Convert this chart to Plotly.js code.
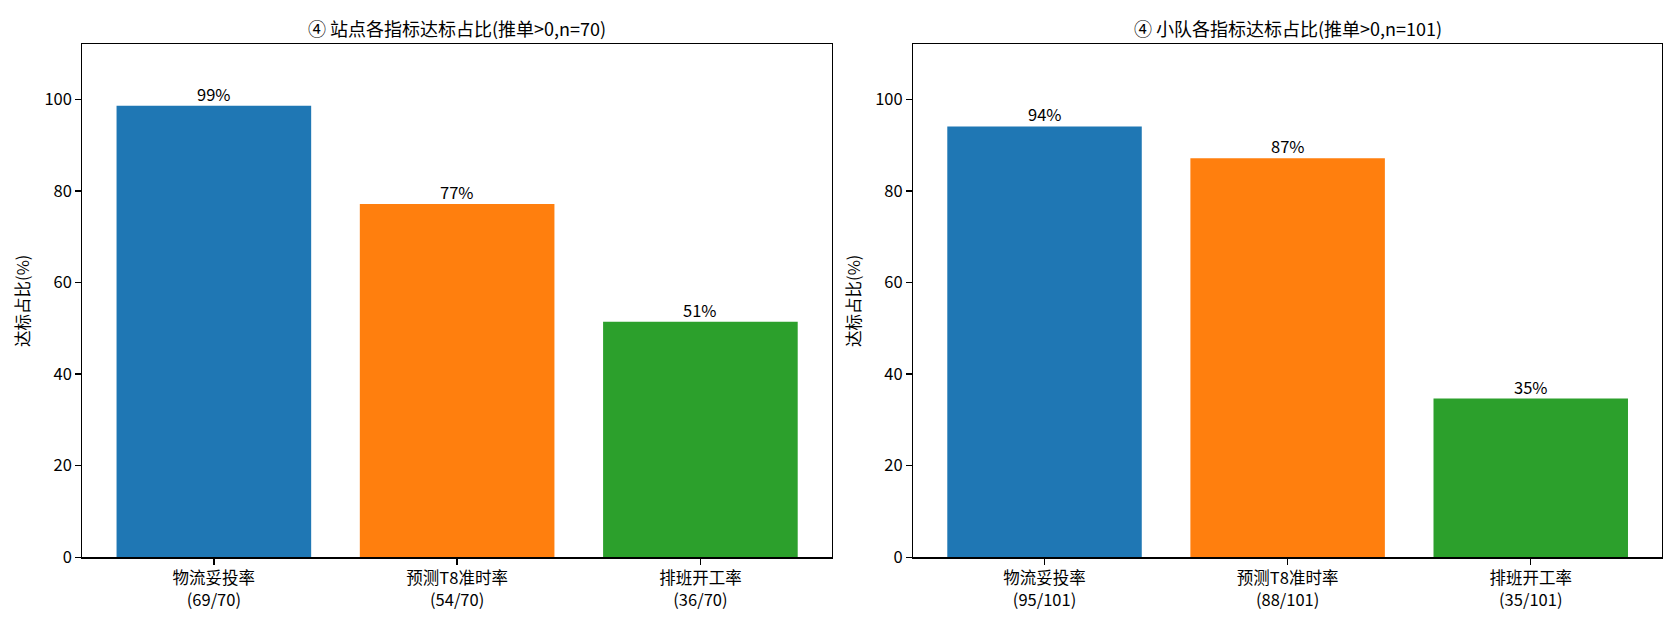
<!DOCTYPE html>
<html>
<head>
<meta charset="utf-8">
<script src="https://cdn.plot.ly/plotly-3.0.1.min.js"></script>
<style>
  html, body { margin: 0; padding: 0; background: #fff; }
  #chart { width: 1680px; height: 624px; }
</style>
</head>
<body>
<div id="chart"></div>
<script>
// ---------- data ----------
const metrics = ["物流妥投率", "预测T8准时率", "排班开工率"];

const siteHits  = [69, 54, 36];
const siteTotal = 70;
const siteRate  = [98.57, 77.14, 51.43];

const teamHits  = [95, 88, 35];
const teamTotal = 101;
const teamRate  = [94.06, 87.13, 34.65];

const barColors = ["#1f77b4", "#ff7f0e", "#2ca02c"];

const FONT = "Noto Sans CJK SC, Noto Sans, DejaVu Sans, sans-serif";


// ---------- helpers ----------
function tickLabels(hits, total){
    return metrics.map((m, i) => m + "<br>(" + hits[i] + "/" + total + ")");
}

function barTrace(rates, xa, ya){
    return {
        type: "bar",
        x: [0, 1, 2],
        y: rates,
        width: 0.8,
        marker: { color: barColors, line: { width: 0 } },
        hoverinfo: "skip",
        xaxis: xa,
        yaxis: ya
    };
}

// value labels above each bar
function barLabels(rates, xa, ya){
    return rates.map((v, i) => ({
        text: Math.round(v) + "%",
        xref: xa, yref: ya,
        x: i, y: v,
        xanchor: "center", yanchor: "bottom",
        yshift: -2,
        showarrow: false,
        font: { family: FONT, size: 16.5, color: "#000" }
    }));
}

function xAxis(domain, hits, total){
    return {
        domain: domain,
        range: [-0.54, 2.54],
        tickmode: "array",
        tickvals: [0, 1, 2],
        ticktext: tickLabels(hits, total),
        ticks: "outside",
        ticklen: 6,
        tickwidth: 1.3,
        tickcolor: "#000",
        showline: true,
        linecolor: "#000",
        linewidth: 1.3,
        mirror: true,
        showgrid: false,
        zeroline: false,
        tickfont: { family: FONT, size: 16.5, color: "#000" },
        fixedrange: true
    };
}

function yAxis(anchor){
    return {
        domain: [0.107, 0.929],
        anchor: anchor,
        range: [0, 112],
        tickmode: "linear",
        tick0: 0,
        dtick: 20,
        ticks: "outside",
        ticklen: 6,
        tickwidth: 1.3,
        tickcolor: "#000",
        showline: true,
        linecolor: "#000",
        linewidth: 1.3,
        mirror: true,
        showgrid: false,
        zeroline: false,
        tickfont: { family: FONT, size: 16.5, color: "#000" },
        title: {
            text: "达标占比(%)",
            font: { family: FONT, size: 16.5, color: "#000" },
            standoff: 10
        },
        fixedrange: true
    };
}

function panelTitle(text, domain){
    return {
        text: text,
        xref: "paper", yref: "paper",
        x: (domain[0] + domain[1]) / 2, y: 0.955,
        xanchor: "center", yanchor: "middle",
        showarrow: false,
        font: { family: FONT, size: 18, color: "#000" }
    };
}


// ---------- layout ----------
const leftDomain  = [0.0491, 0.4951];
const rightDomain = [0.5436, 0.9893];

const layout = {
    width: 1680,
    height: 624,
    margin: { l: 0, r: 0, t: 0, b: 0 },
    paper_bgcolor: "#fff",
    plot_bgcolor: "#fff",
    showlegend: false,
    font: { family: FONT, color: "#000" },

    xaxis:  Object.assign(xAxis(leftDomain, siteHits, siteTotal), { anchor: "y" }),
    yaxis:  yAxis("x"),
    xaxis2: Object.assign(xAxis(rightDomain, teamHits, teamTotal), { anchor: "y2" }),
    yaxis2: yAxis("x2"),

    annotations: [
        panelTitle("④ 站点各指标达标占比(推单>0,n=" + siteTotal + ")", leftDomain),
        panelTitle("④ 小队各指标达标占比(推单>0,n=" + teamTotal + ")", rightDomain)
    ]
        .concat(barLabels(siteRate, "x", "y"))
        .concat(barLabels(teamRate, "x2", "y2"))
};

Plotly.newPlot(
    "chart",
    [
        barTrace(siteRate, "x", "y"),
        barTrace(teamRate, "x2", "y2")
    ],
    layout,
    { displayModeBar: false, staticPlot: true }
);
</script>
</body>
</html>
